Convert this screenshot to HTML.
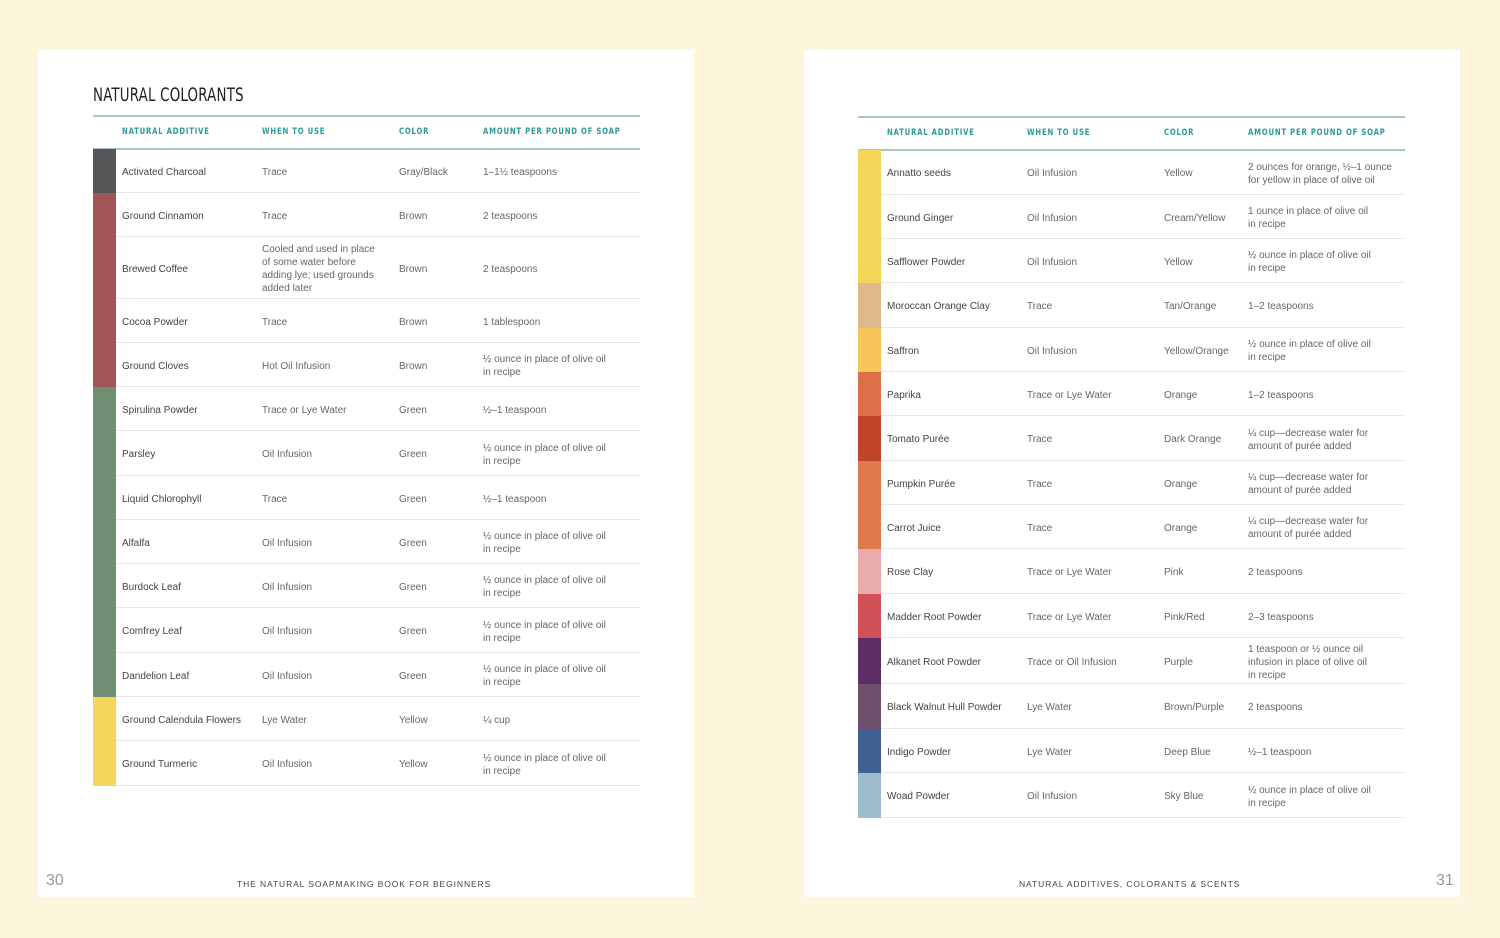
<!DOCTYPE html>
<html><head><meta charset="utf-8">
<style>
*{margin:0;padding:0;box-sizing:border-box}
body{width:1500px;height:938px;background:#fdf6dc;position:relative;overflow:hidden;font-family:"Liberation Sans",sans-serif}
.page{position:absolute;top:50px;width:656px;height:847px;background:#fff}
.title{position:absolute;left:55px;top:34px;font-size:19px;letter-spacing:0.3px;color:#222;font-family:"DejaVu Sans Condensed","Liberation Sans Narrow",sans-serif;font-weight:300;transform:scaleX(0.78);transform-origin:left;white-space:nowrap}
.rule{position:absolute;height:2px;background:#a9c6c6;width:547px}
.hd{position:absolute;font-size:8.5px;font-weight:bold;color:#2a9a96;letter-spacing:0.9px;font-family:"DejaVu Sans Condensed",sans-serif;transform:scaleX(0.9);transform-origin:left;white-space:nowrap}
.row{position:absolute;width:547px;border-bottom:1px solid #e8e8e8;font-size:10px;color:#666}
.sw{position:absolute;left:0;top:0;bottom:-1px;width:23px}
.c{position:absolute;top:3px;bottom:0;display:flex;align-items:center;line-height:13px;white-space:nowrap}
.c1{color:#444}
.foot{position:absolute;top:829px;font-size:8.5px;letter-spacing:0.9px;color:#444;white-space:nowrap}
.pn{position:absolute;top:822px;font-size:16px;color:#999}
</style></head><body>
<div class="page" style="left:38px">
<div class="title">NATURAL COLORANTS</div>
<div class="rule" style="left:55px;top:65px"></div>
<div class="hd" style="left:84px;top:77px">NATURAL ADDITIVE</div>
<div class="hd" style="left:224px;top:77px">WHEN TO USE</div>
<div class="hd" style="left:361px;top:77px">COLOR</div>
<div class="hd" style="left:445px;top:77px">AMOUNT PER POUND OF SOAP</div>
<div class="rule" style="left:55px;top:98px"></div>
<div style="position:absolute;left:55px;top:0">
<div class="row" style="top:99px;height:44px"><div class="sw" style="background:#555658"></div><div class="c c1" style="left:29px">Activated Charcoal</div><div class="c" style="left:169px">Trace</div><div class="c" style="left:306px">Gray/Black</div><div class="c" style="left:390px">1–1½ teaspoons</div></div>
<div class="row" style="top:143px;height:44px"><div class="sw" style="background:#a05656"></div><div class="c c1" style="left:29px">Ground Cinnamon</div><div class="c" style="left:169px">Trace</div><div class="c" style="left:306px">Brown</div><div class="c" style="left:390px">2 teaspoons</div></div>
<div class="row" style="top:187px;height:62px"><div class="sw" style="background:#a05656"></div><div class="c c1" style="left:29px">Brewed Coffee</div><div class="c" style="left:169px">Cooled and used in place<br>of some water before<br>adding lye; used grounds<br>added later</div><div class="c" style="left:306px">Brown</div><div class="c" style="left:390px">2 teaspoons</div></div>
<div class="row" style="top:249px;height:44px"><div class="sw" style="background:#a05656"></div><div class="c c1" style="left:29px">Cocoa Powder</div><div class="c" style="left:169px">Trace</div><div class="c" style="left:306px">Brown</div><div class="c" style="left:390px">1 tablespoon</div></div>
<div class="row" style="top:293px;height:44px"><div class="sw" style="background:#a05656"></div><div class="c c1" style="left:29px">Ground Cloves</div><div class="c" style="left:169px">Hot Oil Infusion</div><div class="c" style="left:306px">Brown</div><div class="c" style="left:390px">½ ounce in place of olive oil<br>in recipe</div></div>
<div class="row" style="top:337px;height:44px"><div class="sw" style="background:#6f8e74"></div><div class="c c1" style="left:29px">Spirulina Powder</div><div class="c" style="left:169px">Trace or Lye Water</div><div class="c" style="left:306px">Green</div><div class="c" style="left:390px">½–1 teaspoon</div></div>
<div class="row" style="top:381px;height:45px"><div class="sw" style="background:#6f8e74"></div><div class="c c1" style="left:29px">Parsley</div><div class="c" style="left:169px">Oil Infusion</div><div class="c" style="left:306px">Green</div><div class="c" style="left:390px">½ ounce in place of olive oil<br>in recipe</div></div>
<div class="row" style="top:426px;height:44px"><div class="sw" style="background:#6f8e74"></div><div class="c c1" style="left:29px">Liquid Chlorophyll</div><div class="c" style="left:169px">Trace</div><div class="c" style="left:306px">Green</div><div class="c" style="left:390px">½–1 teaspoon</div></div>
<div class="row" style="top:470px;height:44px"><div class="sw" style="background:#6f8e74"></div><div class="c c1" style="left:29px">Alfalfa</div><div class="c" style="left:169px">Oil Infusion</div><div class="c" style="left:306px">Green</div><div class="c" style="left:390px">½ ounce in place of olive oil<br>in recipe</div></div>
<div class="row" style="top:514px;height:44px"><div class="sw" style="background:#6f8e74"></div><div class="c c1" style="left:29px">Burdock Leaf</div><div class="c" style="left:169px">Oil Infusion</div><div class="c" style="left:306px">Green</div><div class="c" style="left:390px">½ ounce in place of olive oil<br>in recipe</div></div>
<div class="row" style="top:558px;height:45px"><div class="sw" style="background:#6f8e74"></div><div class="c c1" style="left:29px">Comfrey Leaf</div><div class="c" style="left:169px">Oil Infusion</div><div class="c" style="left:306px">Green</div><div class="c" style="left:390px">½ ounce in place of olive oil<br>in recipe</div></div>
<div class="row" style="top:603px;height:44px"><div class="sw" style="background:#6f8e74"></div><div class="c c1" style="left:29px">Dandelion Leaf</div><div class="c" style="left:169px">Oil Infusion</div><div class="c" style="left:306px">Green</div><div class="c" style="left:390px">½ ounce in place of olive oil<br>in recipe</div></div>
<div class="row" style="top:647px;height:44px"><div class="sw" style="background:#f3d65a"></div><div class="c c1" style="left:29px">Ground Calendula Flowers</div><div class="c" style="left:169px">Lye Water</div><div class="c" style="left:306px">Yellow</div><div class="c" style="left:390px">¼ cup</div></div>
<div class="row" style="top:691px;height:45px"><div class="sw" style="background:#f3d65a"></div><div class="c c1" style="left:29px">Ground Turmeric</div><div class="c" style="left:169px">Oil Infusion</div><div class="c" style="left:306px">Yellow</div><div class="c" style="left:390px">½ ounce in place of olive oil<br>in recipe</div></div>
</div>
<div class="pn" style="left:8px">30</div>
<div class="foot" style="left:199px">THE NATURAL SOAPMAKING BOOK FOR BEGINNERS</div>
</div>

<div class="page" style="left:804px">
<div class="rule" style="left:54px;top:66px"></div>
<div class="hd" style="left:83px;top:78px">NATURAL ADDITIVE</div>
<div class="hd" style="left:223px;top:78px">WHEN TO USE</div>
<div class="hd" style="left:360px;top:78px">COLOR</div>
<div class="hd" style="left:444px;top:78px">AMOUNT PER POUND OF SOAP</div>
<div class="rule" style="left:54px;top:99px"></div>
<div style="position:absolute;left:54px;top:0">
<div class="row" style="top:100px;height:45px"><div class="sw" style="background:#f4d55a"></div><div class="c c1" style="left:29px">Annatto seeds</div><div class="c" style="left:169px">Oil Infusion</div><div class="c" style="left:306px">Yellow</div><div class="c" style="left:390px">2 ounces for orange, ½–1 ounce<br>for yellow in place of olive oil</div></div>
<div class="row" style="top:145px;height:44px"><div class="sw" style="background:#f4d55a"></div><div class="c c1" style="left:29px">Ground Ginger</div><div class="c" style="left:169px">Oil Infusion</div><div class="c" style="left:306px">Cream/Yellow</div><div class="c" style="left:390px">1 ounce in place of olive oil<br>in recipe</div></div>
<div class="row" style="top:189px;height:44px"><div class="sw" style="background:#f4d55a"></div><div class="c c1" style="left:29px">Safflower Powder</div><div class="c" style="left:169px">Oil Infusion</div><div class="c" style="left:306px">Yellow</div><div class="c" style="left:390px">½ ounce in place of olive oil<br>in recipe</div></div>
<div class="row" style="top:233px;height:45px"><div class="sw" style="background:#e0b98a"></div><div class="c c1" style="left:29px">Moroccan Orange Clay</div><div class="c" style="left:169px">Trace</div><div class="c" style="left:306px">Tan/Orange</div><div class="c" style="left:390px">1–2 teaspoons</div></div>
<div class="row" style="top:278px;height:44px"><div class="sw" style="background:#f7c55a"></div><div class="c c1" style="left:29px">Saffron</div><div class="c" style="left:169px">Oil Infusion</div><div class="c" style="left:306px">Yellow/Orange</div><div class="c" style="left:390px">½ ounce in place of olive oil<br>in recipe</div></div>
<div class="row" style="top:322px;height:44px"><div class="sw" style="background:#dc7048"></div><div class="c c1" style="left:29px">Paprika</div><div class="c" style="left:169px">Trace or Lye Water</div><div class="c" style="left:306px">Orange</div><div class="c" style="left:390px">1–2 teaspoons</div></div>
<div class="row" style="top:366px;height:45px"><div class="sw" style="background:#c0442a"></div><div class="c c1" style="left:29px">Tomato Purée</div><div class="c" style="left:169px">Trace</div><div class="c" style="left:306px">Dark Orange</div><div class="c" style="left:390px">¼ cup—decrease water for<br>amount of purée added</div></div>
<div class="row" style="top:411px;height:44px"><div class="sw" style="background:#e07a4c"></div><div class="c c1" style="left:29px">Pumpkin Purée</div><div class="c" style="left:169px">Trace</div><div class="c" style="left:306px">Orange</div><div class="c" style="left:390px">¼ cup—decrease water for<br>amount of purée added</div></div>
<div class="row" style="top:455px;height:44px"><div class="sw" style="background:#e07a4c"></div><div class="c c1" style="left:29px">Carrot Juice</div><div class="c" style="left:169px">Trace</div><div class="c" style="left:306px">Orange</div><div class="c" style="left:390px">¼ cup—decrease water for<br>amount of purée added</div></div>
<div class="row" style="top:499px;height:45px"><div class="sw" style="background:#e8aaaa"></div><div class="c c1" style="left:29px">Rose Clay</div><div class="c" style="left:169px">Trace or Lye Water</div><div class="c" style="left:306px">Pink</div><div class="c" style="left:390px">2 teaspoons</div></div>
<div class="row" style="top:544px;height:44px"><div class="sw" style="background:#cf5157"></div><div class="c c1" style="left:29px">Madder Root Powder</div><div class="c" style="left:169px">Trace or Lye Water</div><div class="c" style="left:306px">Pink/Red</div><div class="c" style="left:390px">2–3 teaspoons</div></div>
<div class="row" style="top:588px;height:46px"><div class="sw" style="background:#5d2d68"></div><div class="c c1" style="left:29px">Alkanet Root Powder</div><div class="c" style="left:169px">Trace or Oil Infusion</div><div class="c" style="left:306px">Purple</div><div class="c" style="left:390px">1 teaspoon or ½ ounce oil<br>infusion in place of olive oil<br>in recipe</div></div>
<div class="row" style="top:634px;height:45px"><div class="sw" style="background:#6e4f6c"></div><div class="c c1" style="left:29px">Black Walnut Hull Powder</div><div class="c" style="left:169px">Lye Water</div><div class="c" style="left:306px">Brown/Purple</div><div class="c" style="left:390px">2 teaspoons</div></div>
<div class="row" style="top:679px;height:44px"><div class="sw" style="background:#3f6193"></div><div class="c c1" style="left:29px">Indigo Powder</div><div class="c" style="left:169px">Lye Water</div><div class="c" style="left:306px">Deep Blue</div><div class="c" style="left:390px">½–1 teaspoon</div></div>
<div class="row" style="top:723px;height:45px"><div class="sw" style="background:#9dbccb"></div><div class="c c1" style="left:29px">Woad Powder</div><div class="c" style="left:169px">Oil Infusion</div><div class="c" style="left:306px">Sky Blue</div><div class="c" style="left:390px">½ ounce in place of olive oil<br>in recipe</div></div>
</div>
<div class="foot" style="left:215px">NATURAL ADDITIVES, COLORANTS &amp; SCENTS</div>
<div class="pn" style="left:632px">31</div>
</div>
</body></html>
